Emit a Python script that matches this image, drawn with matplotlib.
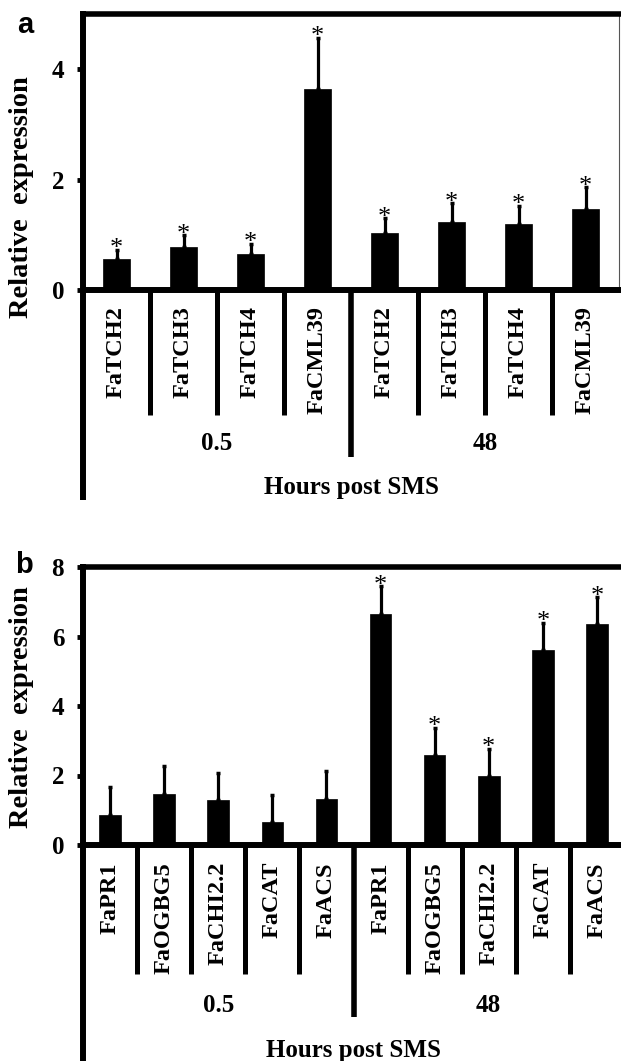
import numpy as np
import matplotlib
matplotlib.use("Agg")
import matplotlib.pyplot as plt

# ─── Data ──────────────────────────────────────────────────────────────────────

genes_a = ["FaTCH2", "FaTCH3", "FaTCH4", "FaCML39",
           "FaTCH2", "FaTCH3", "FaTCH4", "FaCML39"]
mean_a  = [0.57, 0.77, 0.66, 3.64, 1.03, 1.24, 1.20, 1.47]
err_a   = [0.16, 0.22, 0.18, 0.93, 0.27, 0.33, 0.33, 0.39]
sig_a   = [True, True, True, True, True, True, True, True]

genes_b = ["FaPR1", "FaOGBG5", "FaCHI2.2", "FaCAT", "FaACS",
           "FaPR1", "FaOGBG5", "FaCHI2.2", "FaCAT", "FaACS"]
mean_b  = [0.87, 1.47, 1.30, 0.66, 1.33, 6.65, 2.58, 1.99, 5.62, 6.36]
err_b   = [0.80, 0.79, 0.77, 0.79, 0.79, 0.79, 0.79, 0.78, 0.78, 0.77]
sig_b   = [False, False, False, False, False, True, True, True, True, True]

groups  = ["0.5", "48"]
xlabel  = "Hours post SMS"
ylabel  = "Relative  expression"

# ─── Style ─────────────────────────────────────────────────────────────────────

plt.rcParams["font.family"] = ["Liberation Serif", "DejaVu Serif"]
plt.rcParams["font.weight"] = "bold"

W, H = 621, 1061
fig = plt.figure(figsize=(W / 100, H / 100), dpi=100)


def px_box(left, top, right, bottom):
    return [left / W, 1 - bottom / H, (right - left) / W, (bottom - top) / H]


def draw_panel(ax, genes, mean, err, sig, ymax, yticks, drops, ylab_y, right_spine):
    n = len(genes)
    x = np.arange(n)
    ax.bar(x, mean, width=0.4, color="black", edgecolor="black", linewidth=0.5, zorder=2)
    ax.errorbar(x, mean, yerr=[np.zeros(n), err], fmt="none", ecolor="black",
                elinewidth=2.3, capsize=1.6, capthick=2.5, zorder=3)
    for xi, m, e, s in zip(x, mean, err, sig):
        if s:
            ax.annotate("*", (xi, m + e), xytext=(0, -4.0), textcoords="offset points",
                        ha="center", va="baseline", fontsize=19, fontweight="normal")

    ax.set_xlim(-0.5, n - 0.5)
    ax.set_ylim(0, ymax)
    ax.set_yticks(yticks)
    ax.set_xticks([])
    ax.tick_params(axis="y", direction="out", length=4.5, width=3.5,
                   pad=9, labelsize=18)

    for side in ("left", "bottom"):
        ax.spines[side].set_linewidth(4.3)
    ax.spines["top"].set_linewidth(4.0)
    if right_spine:
        ax.spines["right"].set_linewidth(0.8)
        ax.spines["right"].set_color("#555555")
    else:
        ax.spines["right"].set_visible(False)

    # category area below the axis, measured in pixels below the zero line
    h_px = ax.get_position().height * H
    f = lambda px: -px / h_px
    tr = ax.get_xaxis_transform()
    half = n // 2
    for i in range(1, n):
        d = drops["group_div"] if i == half else drops["div"]
        ax.plot([i - 0.5, i - 0.5], [0, f(d)], transform=tr, clip_on=False,
                color="black", lw=4.0 if i == half else 3.6, solid_capstyle="butt")
    ax.plot([-0.5, -0.5], [0, f(drops["spine"])], transform=tr, clip_on=False,
            color="black", lw=4.3, solid_capstyle="butt")

    for xi, g in zip(x, genes):
        ax.text(xi, f(drops["label"]), g, transform=tr, rotation=90,
                ha="center", va="top", fontsize=17.5)
    for k, gname in enumerate(groups):
        ax.text(k * half + (half - 1) / 2, f(drops["group"]), gname, transform=tr,
                ha="center", va="center", fontsize=18)
    ax.text((n - 1) / 2, f(drops["xlabel"]), xlabel, transform=tr,
            ha="center", va="center", fontsize=18)

    ax.text(-61 / (ax.get_position().width * W), ylab_y, ylabel, transform=ax.transAxes,
            rotation=90, ha="center", va="center", fontsize=20.5)


ax_a = fig.add_axes(px_box(83, 14, 619, 290))
draw_panel(ax_a, genes_a, mean_a, err_a, sig_a, 5, [0, 2, 4],
           dict(label=16, div=125, group_div=167, group=153, xlabel=197, spine=210),
           0.337, True)

ax_b = fig.add_axes(px_box(83, 567, 624, 845))
draw_panel(ax_b, genes_b, mean_b, err_b, sig_b, 8, [0, 2, 4, 6, 8],
           dict(label=17, div=129, group_div=172, group=160, xlabel=205, spine=240),
           0.495, False)

fig.text(25 / W, 1 - 33 / H, "a", family="Liberation Sans", fontsize=21,
         fontweight="bold", ha="center", va="baseline")
fig.text(24 / W, 1 - 573 / H, "b", family="Liberation Sans", fontsize=21,
         fontweight="bold", ha="center", va="baseline")

plt.savefig("out.png", dpi=100)
plt.close()
